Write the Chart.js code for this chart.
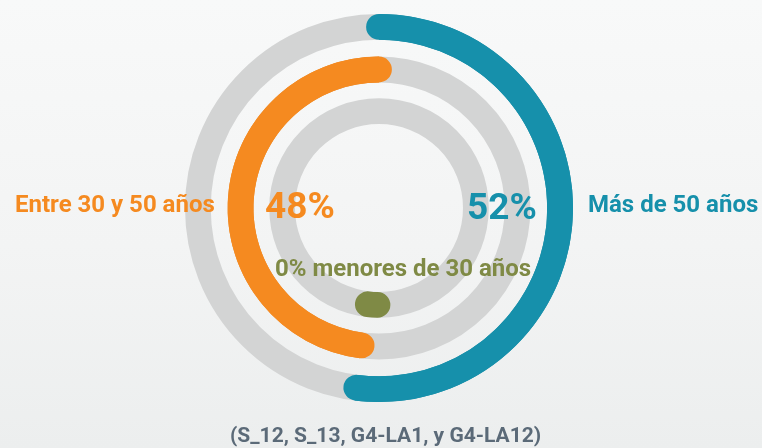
<!DOCTYPE html>
<html>
<head>
<meta charset="utf-8">
<script src="https://cdn.jsdelivr.net/npm/chart.js@4/dist/chart.umd.min.js"></script>
<style>
  html, body { margin: 0; padding: 0; }
  body {
    width: 762px;
    height: 448px;
    overflow: hidden;
    position: relative;
    font-family: Roboto, "Noto Sans", sans-serif;
    background: linear-gradient(180deg, #f8f9f9 0%, #f3f4f4 55%, #eceeee 100%);
  }
  #chart { position: absolute; left: 0; top: 0; }
  .lbl {
    position: absolute;
    font-weight: 700;
    line-height: 1;
    white-space: nowrap;
  }
</style>
</head>
<body>
<canvas id="chart" width="762" height="448"></canvas>
<div id="labels"></div>
<script>
const CATEGORIES = ["Más de 50 años", "menores de 30 años", "Entre 30 y 50 años"];
const SHARES = [52, 0, 48];
const COLORS = ["#1690ab", "#7f8a45", "#f58a20"];
const TRACK = "#d3d4d4";
const SOURCE = "(S_12, S_13, G4-LA1, y G4-LA12)";

// ring order from outside to inside -> index into CATEGORIES
const RING_ORDER = [0, 2, 1];

function ring(catIdx) {
  return {
    data: SHARES,
    highlight: catIdx,
    backgroundColor: SHARES.map((_, i) => (i === catIdx ? COLORS[catIdx] : "transparent")),
    borderWidth: 0,
    hoverBorderWidth: 0,
    hoverOffset: 0,
    weight: 26,
  };
}

function spacer(w) {
  return {
    data: [1],
    spacer: true,
    backgroundColor: "transparent",
    borderWidth: 0,
    hoverOffset: 0,
    weight: w,
  };
}

const datasets = [
  ring(RING_ORDER[0]),
  spacer(17),
  ring(RING_ORDER[1]),
  spacer(16),
  ring(RING_ORDER[2]),
];

// grey track under each ring
const trackPlugin = {
  id: "track",
  beforeDatasetsDraw(chart) {
    const ctx = chart.ctx;
    chart.data.datasets.forEach((ds, i) => {
      if (ds.spacer) return;
      const arc = chart.getDatasetMeta(i).data[0];
      const mid = (arc.innerRadius + arc.outerRadius) / 2;
      ctx.save();
      ctx.beginPath();
      ctx.arc(arc.x, arc.y, mid, 0, Math.PI * 2);
      ctx.lineWidth = arc.outerRadius - arc.innerRadius;
      ctx.strokeStyle = TRACK;
      ctx.stroke();
      ctx.restore();
    });
  },
};

// rounded ends on the coloured arcs
const capsPlugin = {
  id: "caps",
  afterDatasetsDraw(chart) {
    const ctx = chart.ctx;
    chart.data.datasets.forEach((ds, i) => {
      if (ds.spacer) return;
      const arc = chart.getDatasetMeta(i).data[ds.highlight];
      const mid = (arc.innerRadius + arc.outerRadius) / 2;
      let a0 = arc.startAngle;
      let a1 = arc.endAngle;
      if (a1 - a0 < 0.001) {
        // zero share: still show a small pill, sitting just before the boundary
        a0 -= 0.11;
        a1 -= 0.01;
      }
      ctx.save();
      ctx.beginPath();
      ctx.arc(arc.x, arc.y, mid, a0, a1);
      ctx.lineWidth = arc.outerRadius - arc.innerRadius;
      ctx.lineCap = "round";
      ctx.strokeStyle = COLORS[ds.highlight];
      ctx.stroke();
      ctx.restore();
    });
  },
};

new Chart(document.getElementById("chart"), {
  type: "doughnut",
  data: { labels: CATEGORIES, datasets: datasets },
  options: {
    responsive: false,
    animation: false,
    events: [],
    cutout: "43.3%",
    rotation: 0,
    circumference: 360,
    layout: { padding: { top: 14, bottom: 46, left: 0, right: 4 } },
    plugins: {
      legend: { display: false },
      tooltip: { enabled: false },
    },
  },
  plugins: [trackPlugin, capsPlugin],
});

// text labels
const LABELS = [
  { text: CATEGORIES[2], color: COLORS[2], size: 24, left: 15, base: 212 },
  { text: CATEGORIES[0], color: COLORS[0], size: 24, left: 588, base: 212 },
  { text: SHARES[2] + "%", color: COLORS[2], size: 37, left: 265, base: 218 },
  { text: SHARES[0] + "%", color: COLORS[0], size: 37, left: 467, base: 219 },
  { text: SHARES[1] + "% " + CATEGORIES[1], color: COLORS[1], size: 24, left: 275, base: 276 },
  { text: SOURCE, color: "#5b6a78", size: 21, left: 230, base: 443 },
];

const holder = document.getElementById("labels");
LABELS.forEach((l) => {
  const el = document.createElement("div");
  el.className = "lbl";
  el.textContent = l.text;
  el.style.color = l.color;
  el.style.fontSize = l.size + "px";
  el.style.left = l.left + "px";
  el.style.top = (l.base - 0.8415 * l.size) + "px";
  holder.appendChild(el);
});
</script>
</body>
</html>
